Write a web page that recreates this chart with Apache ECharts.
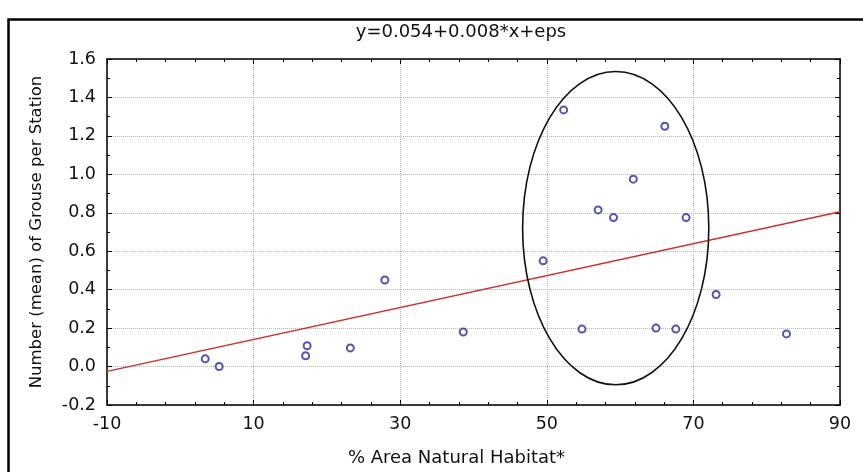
<!DOCTYPE html>
<html>
<head>
<meta charset="utf-8">
<script src="https://cdn.jsdelivr.net/npm/echarts@6/dist/echarts.min.js"></script>
<style>
    html, body { margin: 0; padding: 0; background: #fff; }
    #chart { width: 863px; height: 472px; }
</style>
</head>
<body>
<div id="chart"></div>
<script>
    // observations: % natural habitat vs mean grouse per station
    var habitat = [3.4, 5.3, 17.1, 17.3, 23.2, 27.9, 38.6, 49.5, 52.3, 54.8, 57.0, 59.1, 61.8, 64.9, 66.1, 67.6, 69.0, 73.1, 82.7];
    var grouse  = [0.04, 0.0, 0.056, 0.108, 0.097, 0.45, 0.18, 0.55, 1.335, 0.195, 0.815, 0.775, 0.975, 0.2, 1.25, 0.195, 0.775, 0.375, 0.17];

    // fitted line end points
    var fitX = [-10, 90];
    var fitY = [-0.025, 0.805];

    // highlighted cluster: centre x, centre y, half width, half height
    var cluster = [59.4, 0.72, 12.7, 0.815];

    var font = '"DejaVu Sans", Verdana, sans-serif';
    var textColor = '#111';

    var points = habitat.map(function (x, i) { return [x, grouse[i]]; });
    var fitLine = fitX.map(function (x, i) { return [x, fitY[i]]; });

    var myChart = echarts.init(document.getElementById('chart'));

    var axisBase = {
        type: 'value',
        min: -10,
        max: 90,
        interval: 20,
        axisLine: { show: true, onZero: false, lineStyle: { color: '#000', width: 1.5 } },
        axisTick: { show: true, inside: true, length: 5, lineStyle: { color: '#000', width: 1 } },
        minorTick: { show: true, splitNumber: 5, length: 3, lineStyle: { color: '#000', width: 1 } }
    };

    var options = {
        animation: false,
        backgroundColor: '#fff',
        title: {
            text: 'y=0.054+0.008*x+eps',
            left: 456,
            textAlign: 'center',
            top: 18,
            textStyle: { color: textColor, fontSize: 18, fontWeight: 'normal', fontFamily: font }
        },
        graphic: [{
            type: 'rect',
            left: 6,
            top: 17,
            shape: { width: 880, height: 480 },
            style: { fill: 'none', stroke: '#000', lineWidth: 2.5 },
            silent: true
        }],
        grid: { left: 107, right: 23, top: 59, bottom: 67 },
        xAxis: [
            Object.assign({}, axisBase, {
                position: 'bottom',
                name: '% Area Natural Habitat*',
                nameLocation: 'middle',
                nameGap: 44,
                nameTextStyle: { color: textColor, fontSize: 18, fontFamily: font, padding: [0, 34, 0, 0] },
                axisLabel: { color: textColor, fontSize: 17.5, fontFamily: font, margin: 10 },
                splitLine: { show: true, lineStyle: { type: 'dotted', color: '#b4b4b4', width: 1 } }
            }),
            Object.assign({}, axisBase, {
                position: 'top',
                axisLabel: { show: false },
                splitLine: { show: false }
            })
        ],
        yAxis: [
            {
                type: 'value',
                min: -0.2,
                max: 1.6,
                interval: 0.2,
                position: 'left',
                name: 'Number (mean) of Grouse per Station',
                nameLocation: 'middle',
                nameGap: 62,
                nameTextStyle: { color: textColor, fontSize: 16.5, fontFamily: font },
                axisLine: { show: true, onZero: false, lineStyle: { color: '#000', width: 1.5 } },
                axisTick: { show: true, inside: true, length: 5, lineStyle: { color: '#000' } },
                minorTick: { show: true, splitNumber: 2, length: 3, lineStyle: { color: '#000' } },
                axisLabel: {
                    color: textColor, fontSize: 17.5, fontFamily: font, margin: 11,
                    formatter: function (v) { return v.toFixed(1); }
                },
                splitLine: { show: true, lineStyle: { type: 'dotted', color: '#b4b4b4', width: 1 } }
            },
            {
                type: 'value',
                min: -0.2,
                max: 1.6,
                interval: 0.2,
                position: 'right',
                axisLine: { show: true, onZero: false, lineStyle: { color: '#000', width: 1.5 } },
                axisTick: { show: true, inside: true, length: 5, lineStyle: { color: '#000' } },
                minorTick: { show: true, splitNumber: 2, length: 3, lineStyle: { color: '#000' } },
                axisLabel: { show: false },
                splitLine: { show: false }
            }
        ],
        series: [
            {
                type: 'line',
                data: fitLine,
                showSymbol: false,
                silent: true,
                lineStyle: { color: '#c8302c', width: 1.5 },
                z: 2
            },
            {
                type: 'scatter',
                data: points,
                symbol: 'emptyCircle',
                symbolSize: 7,
                itemStyle: { color: '#2a2a9c', borderColor: '#2a2a9c', borderWidth: 1.6 },
                z: 3
            },
            {
                type: 'custom',
                data: [cluster],
                silent: true,
                renderItem: function (params, api) {
                    var c = api.coord([api.value(0), api.value(1)]);
                    var s = api.size([api.value(2), api.value(3)]);
                    return {
                        type: 'ellipse',
                        shape: { cx: c[0], cy: c[1], rx: s[0], ry: s[1] },
                        style: { fill: 'none', stroke: '#111', lineWidth: 1.6 }
                    };
                },
                z: 4
            }
        ]
    };

    myChart.setOption(options);
    window.addEventListener('resize', myChart.resize);
</script>
</body>
</html>
